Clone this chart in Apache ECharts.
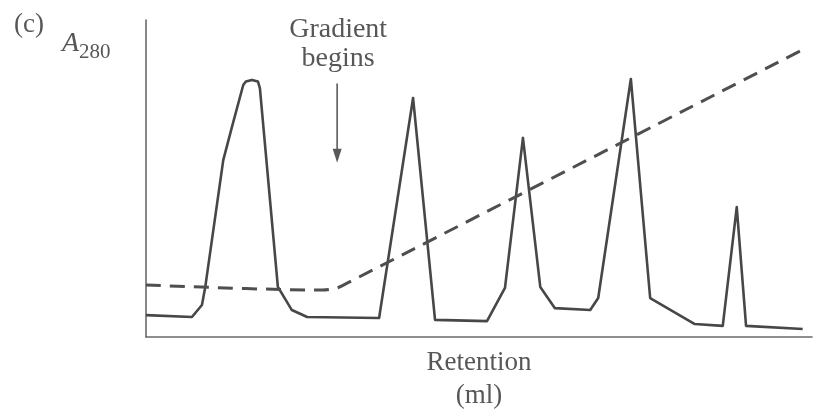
<!DOCTYPE html>
<html>
<head>
<meta charset="utf-8">
<script src="https://cdn.jsdelivr.net/npm/echarts@6/dist/echarts.min.js"></script>
<style>
  html, body { margin: 0; padding: 0; background: #ffffff; }
  #chart { width: 820px; height: 419px; }
</style>
</head>
<body>
<div id="chart"></div>
<script>
// Ion-exchange elution profile: A280 trace and salt gradient against retention volume (ml)
const traceRetention = [0, 6.9, 8.4, 8.9, 11.6, 12.9, 14.6, 15.0, 15.9, 16.8, 17.1, 19.8, 21.9, 24.2,
  35.0, 40.1, 43.4, 51.2, 53.9, 56.6, 59.2, 61.4, 66.7, 67.9, 72.8, 75.7, 82.4, 86.6, 88.7, 90.1, 98.6];
const traceA280 = [0.069, 0.063, 0.101, 0.158, 0.558, 0.662, 0.795, 0.806, 0.811, 0.806, 0.785, 0.158, 0.085, 0.063,
  0.060, 0.754, 0.054, 0.050, 0.155, 0.628, 0.158, 0.091, 0.085, 0.123, 0.814, 0.123, 0.041, 0.035, 0.410, 0.035, 0.025];

// Salt concentration (dashed), flat until the gradient starts, then a linear ramp
const gradientRetention = [0, 26.5, 28.7, 30.2, 98.2];
const gradientLevel = [0.164, 0.148, 0.155, 0.170, 0.902];

const gradientStart = 28.7;        // ml, where the arrow points
const arrowTop = 0.80, arrowTip = 0.55;

const textColor = '#575757';
const serif = '"Liberation Serif", "DejaVu Serif", serif';

const zip = (xs, ys) => xs.map((x, i) => [x, ys[i]]);

const chart = echarts.init(document.getElementById('chart'), null, { renderer: 'canvas' });

const option = {
  animation: false,
  backgroundColor: '#ffffff',
  grid: { left: 146, right: 8, top: 20, bottom: 82 },
  xAxis: {
    type: 'value', min: 0, max: 100,
    axisLine: { show: true, onZero: false, lineStyle: { color: '#6a6a6a', width: 1.6 } },
    axisTick: { show: false }, axisLabel: { show: false }, splitLine: { show: false },
    name: 'Retention\n(ml)', nameLocation: 'middle', nameGap: 9,
    nameTextStyle: { fontFamily: serif, fontSize: 27, color: textColor, lineHeight: 33, verticalAlign: 'top' }
  },
  yAxis: {
    type: 'value', min: 0, max: 1,
    axisLine: { show: true, onZero: false, lineStyle: { color: '#6a6a6a', width: 1.6 } },
    axisTick: { show: false }, axisLabel: { show: false }, splitLine: { show: false }
  },
  series: [
    {
      name: 'A280', type: 'line', data: zip(traceRetention, traceA280),
      showSymbol: false, symbol: 'none',
      lineStyle: { color: '#474747', width: 2.6, join: 'round' }
    },
    {
      name: 'Gradient', type: 'line', data: zip(gradientRetention, gradientLevel),
      showSymbol: false, symbol: 'none', smooth: 0.3,
      lineStyle: { color: '#4f4f4f', width: 3, type: [15, 9] }
    }
  ]
};
chart.setOption(option);

// Annotations placed from data coordinates
const arrowStartPx = chart.convertToPixel({ gridIndex: 0 }, [gradientStart, arrowTop]);
const arrowTipPx = chart.convertToPixel({ gridIndex: 0 }, [gradientStart, arrowTip]);
const headLen = 14, headHalf = 4.5;

chart.setOption({
  graphic: [
    { type: 'text', left: 14, top: 11,
      style: { text: '(c)', font: '27px ' + serif, fill: textColor } },
    { type: 'text', left: 62, top: 30,
      style: {
        text: '{a|A}{s|280}',
        rich: {
          a: { fontFamily: serif, fontStyle: 'italic', fontSize: 28, fill: textColor, verticalAlign: 'bottom' },
          s: { fontFamily: serif, fontSize: 21, fill: textColor, verticalAlign: 'bottom', padding: [0, 0, -5, 0] }
        }
      } },
    { type: 'text', x: arrowStartPx[0] + 1, y: 15,
      style: { text: 'Gradient\nbegins', font: '28px ' + serif, fill: textColor,
               align: 'center', verticalAlign: 'top', lineHeight: 29 } },
    { type: 'line',
      shape: { x1: arrowStartPx[0], y1: arrowStartPx[1], x2: arrowTipPx[0], y2: arrowTipPx[1] - headLen + 2 },
      style: { stroke: '#5a5a5a', lineWidth: 1.6 } },
    { type: 'polygon',
      shape: { points: [[arrowTipPx[0] - headHalf, arrowTipPx[1] - headLen], [arrowTipPx[0] + headHalf, arrowTipPx[1] - headLen], [arrowTipPx[0], arrowTipPx[1]]] },
      style: { fill: '#5a5a5a' } }
  ]
});
</script>
</body>
</html>
